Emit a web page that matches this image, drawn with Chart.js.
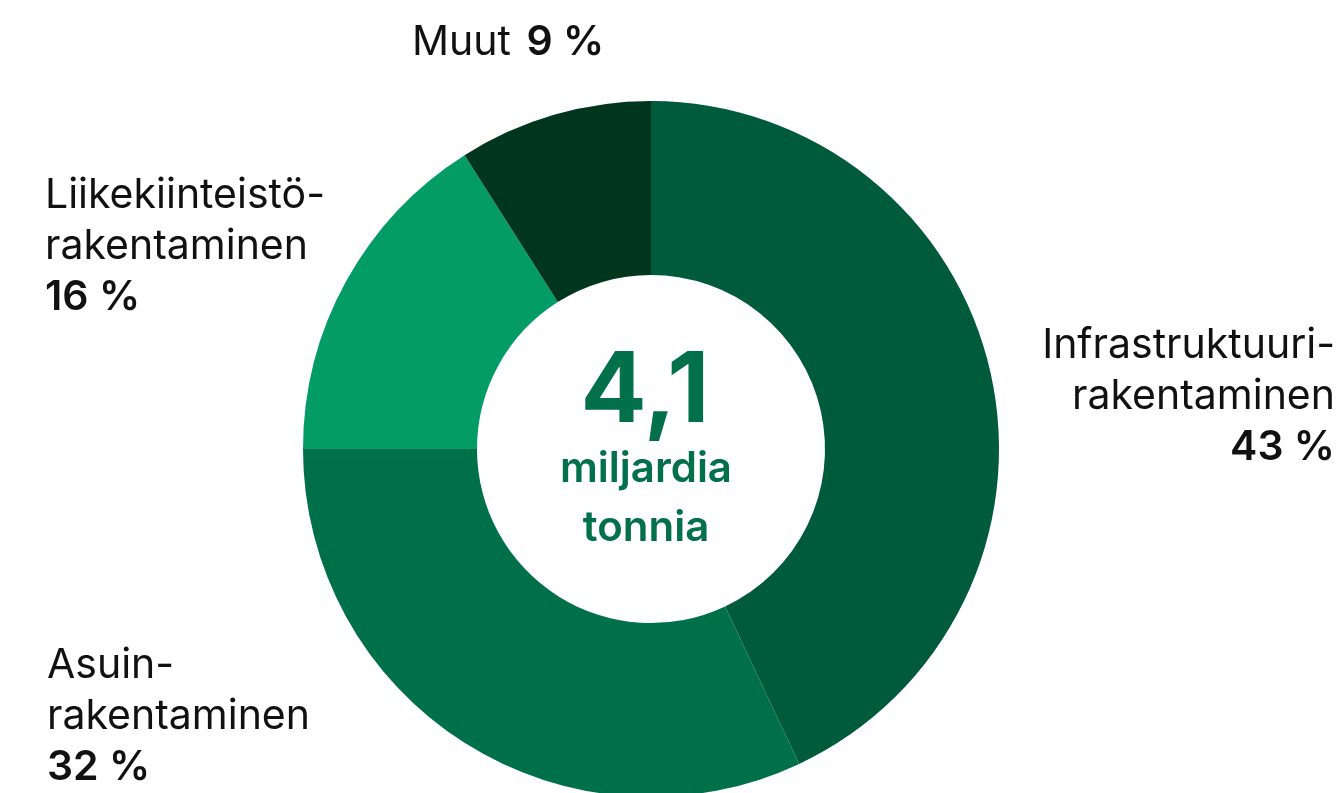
<!DOCTYPE html>
<html lang="fi">
<head>
<meta charset="utf-8">
<title>Rakentamisen materiaalit</title>
<script src="https://cdn.jsdelivr.net/npm/chart.js@4.4.1/dist/chart.umd.min.js"></script>
<style>
    html, body { margin: 0; padding: 0; background: #fff; overflow: hidden; }
    #wrap { position: relative; width: 1342px; height: 800px; }
</style>
</head>
<body>
<div id="wrap"><canvas id="donut" width="1342" height="800"></canvas></div>
<script>
// Data
const categories = ['Infrastruktuurirakentaminen', 'Asuinrakentaminen', 'Liikekiinteistörakentaminen', 'Muut'];
const labelLines = [['Infrastruktuuri-', 'rakentaminen'], ['Asuin-', 'rakentaminen'], ['Liikekiinteistö-', 'rakentaminen'], ['Muut']];
const shares = [43, 32, 16, 9];
const centerValue = '4,1';
const centerUnit = ['miljardia', 'tonnia'];

const sliceColors = ['#005a3c', '#00704b', '#039c66', '#01361e'];
const textColor = '#111111';
const centerColor = '#02704b';
const FONT = 'Inter, "Noto Sans", sans-serif';

// Label anchors: x, baseline of first line, alignment
const labelLayout = [
    { x: 1335, y: 358, align: 'right' },
    { x: 47, y: 678, align: 'left' },
    { x: 45, y: 208, align: 'left' },
    { x: 412, y: 55, align: 'inline' }
];
const lineHeight = 51;

const labelsPlugin = {
    id: 'donutLabels',
    afterDraw(chart) {
        const ctx = chart.ctx;
        const area = chart.chartArea;
        const cx = (area.left + area.right) / 2;
        const cy = (area.top + area.bottom) / 2;

        ctx.save();
        // Center text
        ctx.fillStyle = centerColor;
        ctx.textAlign = 'center';
        ctx.textBaseline = 'alphabetic';
        ctx.font = `700 98px ${FONT}`;
        ctx.fillText(centerValue, cx - 6, cy - 27);
        ctx.font = `600 42px ${FONT}`;
        ctx.fillText(centerUnit[0], cx - 5, cy + 33);
        ctx.fillText(centerUnit[1], cx - 5, cy + 92);

        // Segment labels
        ctx.fillStyle = textColor;
        labelLines.forEach((lines, i) => {
            const pos = labelLayout[i];
            const pct = `${shares[i]} %`;
            if (pos.align === 'inline') {
                ctx.textAlign = 'left';
                ctx.font = `400 41px ${FONT}`;
                const name = lines[0] + ' ';
                ctx.fillText(name, pos.x, pos.y);
                const w = ctx.measureText(name).width;
                ctx.font = `600 41px ${FONT}`;
                ctx.fillText(pct, pos.x + w + 4, pos.y);
                return;
            }
            ctx.textAlign = pos.align;
            ctx.font = `400 41px ${FONT}`;
            lines.forEach((line, j) => {
                ctx.fillText(line, pos.x, pos.y + j * lineHeight);
            });
            ctx.font = `600 41px ${FONT}`;
            ctx.fillText(pct, pos.x, pos.y + lines.length * lineHeight);
        });
        ctx.restore();
    }
};

new Chart(document.getElementById('donut'), {
    type: 'doughnut',
    data: {
        labels: categories,
        datasets: [{
            data: shares,
            backgroundColor: sliceColors,
            borderWidth: 0,
            hoverOffset: 0
        }]
    },
    options: {
        responsive: false,
        animation: false,
        cutout: '50%',
        rotation: 0,
        layout: { padding: { top: 101, bottom: 3, left: 303, right: 343 } },
        plugins: {
            legend: { display: false },
            tooltip: { enabled: false }
        }
    },
    plugins: [labelsPlugin]
});
</script>
</body>
</html>
